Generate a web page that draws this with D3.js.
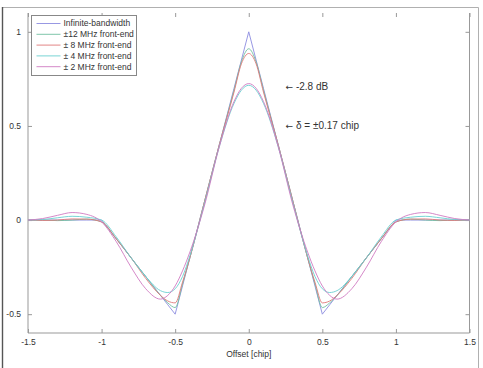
<!DOCTYPE html>
<html>
<head>
<meta charset="utf-8">
<script src="https://cdn.jsdelivr.net/npm/d3@7"></script>
<style>
    body { margin: 0; background: #fff; }
    text { font-family: "Liberation Sans", Arial, sans-serif; fill: #333; }
</style>
</head>
<body>
<div id="chart"></div>
<script>

// offsets in chips
let offsets = [-1.5, -1.4, -1.3, -1.2, -1.1, -1.0, -0.9, -0.8, -0.7, -0.6, -0.55, -0.5, -0.45, -0.4, -0.3, -0.2, -0.1, -0.05, 0,
    0.05, 0.1, 0.2, 0.3, 0.4, 0.45, 0.5, 0.55, 0.6, 0.7, 0.8, 0.9, 1.0, 1.1, 1.2, 1.3, 1.4, 1.5];

let infiniteBw = [0, 0, 0, 0, 0, 0, -0.1, -0.2, -0.3, -0.4, -0.45, -0.5, -0.35, -0.2, 0.1, 0.4, 0.7, 0.85, 1,
    0.85, 0.7, 0.4, 0.1, -0.2, -0.35, -0.5, -0.45, -0.4, -0.3, -0.2, -0.1, 0, 0, 0, 0, 0, 0];
let fe12 = [0, 0, -0.003, 0, 0.005, -0.01, -0.10, -0.20, -0.30, -0.40, -0.44, -0.465, -0.34, -0.20, 0.10, 0.40, 0.69, 0.84, 0.91,
    0.84, 0.69, 0.40, 0.10, -0.20, -0.34, -0.465, -0.44, -0.40, -0.30, -0.20, -0.10, -0.01, 0.005, 0, -0.003, 0, 0];
let fe8 = [0, -0.002, 0, 0.006, 0.005, -0.01, -0.10, -0.20, -0.31, -0.40, -0.43, -0.44, -0.33, -0.20, 0.10, 0.40, 0.68, 0.83, 0.885,
    0.83, 0.68, 0.40, 0.10, -0.20, -0.33, -0.44, -0.43, -0.40, -0.31, -0.20, -0.10, -0.01, 0.005, 0.006, 0, -0.002, 0];
let fe4 = [0, 0.003, 0.012, 0.02, 0.015, 0, -0.09, -0.20, -0.30, -0.375, -0.385, -0.365, -0.30, -0.19, 0.09, 0.39, 0.62, 0.69, 0.716,
    0.69, 0.62, 0.39, 0.09, -0.19, -0.30, -0.365, -0.385, -0.375, -0.30, -0.20, -0.09, 0, 0.015, 0.02, 0.012, 0.003, 0];
let fe2 = [0, 0.008, 0.025, 0.04, 0.03, -0.01, -0.115, -0.25, -0.365, -0.42, -0.40, -0.35, -0.27, -0.17, 0.08, 0.39, 0.63, 0.70, 0.725,
    0.70, 0.63, 0.39, 0.08, -0.17, -0.27, -0.35, -0.40, -0.42, -0.365, -0.25, -0.115, -0.01, 0.03, 0.04, 0.025, 0.008, 0];

let seriesNames = ["Infinite-bandwidth", "\u00b112 MHz front-end", "\u00b1 8 MHz front-end", "\u00b1 4 MHz front-end", "\u00b1 2 MHz front-end"];
let seriesValues = [infiniteBw, fe12, fe8, fe4, fe2];
let seriesColors = ["#8c8ce0", "#72c0a0", "#df7878", "#6ad0d0", "#d07ac2"];

let xTicks = [-1.5, -1, -0.5, 0, 0.5, 1, 1.5];
let yTicks = [-0.5, 0, 0.5, 1];

let notes = [
    {x: 0.25, y: 0.71, text: "-2.8 dB"},
    {x: 0.25, y: 0.5, text: "\u03b4 = \u00b10.17 chip"}
];

let width = 483, height = 368;

let svg = d3.select("#chart").append("svg")
    .attr("width", width)
    .attr("height", height);

// figure frame
svg.append("path")
    .attr("d", "M2.5,368 V7.5 H478.5 V368")
    .attr("fill", "none")
    .attr("stroke", "#b0b0b0");
svg.append("line")
    .attr("x1", 2.5).attr("x2", 2.5).attr("y1", 7).attr("y2", 368)
    .attr("stroke", "#555")
    .attr("stroke-width", 1.4);

let xScale = d3.scaleLinear().domain([-1.5, 1.5]).range([28, 469.5]);
let yScale = d3.scaleLinear().domain([-0.6, 1.1]).range([333, 13]);

let axisColor = "#999";
let fmt = d => d3.format("~g")(d).replace("\u2212", "-");

// axes box (left, bottom, right)
svg.append("path")
    .attr("d", `M${xScale(-1.5)},${yScale(1.1)} V${yScale(-0.6)} H${xScale(1.5)} V${yScale(1.1)}`)
    .attr("fill", "none")
    .attr("stroke", axisColor);

// inward ticks on all sides
let xAxisBottom = d3.axisBottom(xScale).tickValues(xTicks).tickSize(-4).tickPadding(6).tickFormat(fmt);
let xAxisTop = d3.axisTop(xScale).tickValues(xTicks).tickSize(-4).tickFormat("");
let yAxisLeft = d3.axisLeft(yScale).tickValues(yTicks).tickSize(-4).tickPadding(7).tickFormat(fmt);
let yAxisRight = d3.axisRight(yScale).tickValues(yTicks).tickSize(-4).tickFormat("");

function styleAxis(g) {
    g.select(".domain").remove();
    g.selectAll(".tick line").attr("stroke", axisColor);
    g.selectAll(".tick text").attr("fill", "#333").style("font-size", "8.5px")
        .style("font-family", "'Liberation Sans', Arial, sans-serif");
}

svg.append("g").attr("transform", `translate(0,${yScale(-0.6)})`).call(xAxisBottom).call(styleAxis);
svg.append("g").attr("transform", `translate(0,${yScale(1.1)})`).call(xAxisTop).call(styleAxis);
svg.append("g").attr("transform", `translate(${xScale(-1.5)},0)`).call(yAxisLeft).call(styleAxis);
svg.append("g").attr("transform", `translate(${xScale(1.5)},0)`).call(yAxisRight).call(styleAxis);

// x label
svg.append("text")
    .attr("x", xScale(0))
    .attr("y", 357)
    .attr("text-anchor", "middle")
    .style("font-size", "8.5px")
    .text("Offset [chip]");

// curves
let line = d3.line()
    .x((d, i) => xScale(offsets[i]))
    .y(d => yScale(d));

seriesValues.forEach((vals, k) => {
    svg.append("path")
        .datum(vals)
        .attr("fill", "none")
        .attr("stroke", seriesColors[k])
        .attr("stroke-width", 0.9)
        .attr("d", line.curve(k === 0 ? d3.curveLinear : d3.curveMonotoneX));
});

// annotations, arrow drawn in DejaVu since Liberation lacks it
let noteText = svg.selectAll(".note")
    .data(notes)
    .enter()
    .append("text")
    .attr("class", "note")
    .attr("x", d => xScale(d.x))
    .attr("y", d => yScale(d.y))
    .attr("dy", "0.35em")
    .style("font-size", "10px");
noteText.append("tspan")
    .style("font-family", "'DejaVu Sans', sans-serif")
    .style("font-size", "9px")
    .text("\u2190 ");
noteText.append("tspan")
    .text(d => d.text);

// legend
let legend = svg.append("g").attr("transform", "translate(31.5,15.5)");
legend.append("rect")
    .attr("width", 105)
    .attr("height", 60)
    .attr("fill", "#fff")
    .attr("stroke", "#888");

let rows = legend.selectAll(".row")
    .data(seriesNames)
    .enter()
    .append("g")
    .attr("transform", (d, i) => `translate(0,${8 + i * 10.8})`);

rows.append("line")
    .attr("x1", 5).attr("x2", 29)
    .attr("stroke", (d, i) => seriesColors[i])
    .attr("stroke-width", 0.9);

rows.append("text")
    .attr("x", 32)
    .attr("dy", "0.35em")
    .style("font-size", "8.5px")
    .text(d => d);

</script>
</body>
</html>
